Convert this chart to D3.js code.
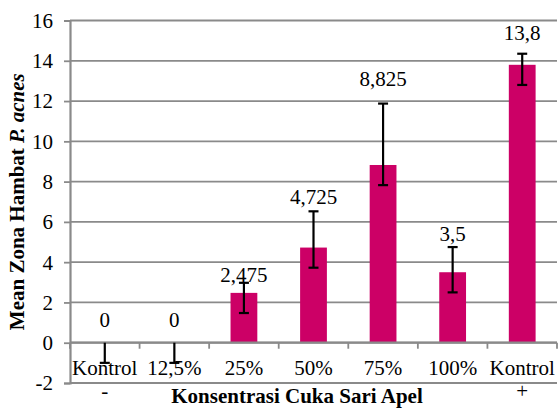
<!DOCTYPE html>
<html>
<head>
<meta charset="utf-8">
<script src="https://cdn.jsdelivr.net/npm/d3@7"></script>
<style>
  html, body { margin: 0; padding: 0; background: #fff; }
  svg { display: block; }
</style>
</head>
<body>
<svg id="chart" width="560" height="409"></svg>
<script>
// Mean inhibition zone of P. acnes per apple cider vinegar concentration
const categories = ["Kontrol -", "12,5%", "25%", "50%", "75%", "100%", "Kontrol +"];
const categoryLines = [["Kontrol", "-"], ["12,5%"], ["25%"], ["50%"], ["75%"], ["100%"], ["Kontrol", "+"]];
const means = [0, 0, 2.475, 4.725, 8.825, 3.5, 13.8];
const valueLabels = ["0", "0", "2,475", "4,725", "8,825", "3,5", "13,8"];
const errPlus = [0, 0, 0.5, 1.8, 3.05, 1.25, 0.55];
const errMinus = [1, 1, 1, 1, 1, 1, 1];
const yTicks = [-2, 0, 2, 4, 6, 8, 10, 12, 14, 16];

const FONT = "'Liberation Serif', 'Times New Roman', serif";
const svg = d3.select("#chart");
const plotLeft = 70, plotRight = 557, plotTop = 20.5, plotBottom = 383;
const gridColor = "#8a8a8a";
const barColor = "#cc0066";

const x = d3.scaleBand().domain(categories).range([plotLeft, plotRight]).padding(0);
const y = d3.scaleLinear().domain([-2, 16]).range([plotBottom, plotTop]);
const barW = x.bandwidth() * 0.385;

// horizontal gridlines
svg.append("g").selectAll("line").data(yTicks).join("line")
  .attr("x1", plotLeft).attr("x2", plotRight)
  .attr("y1", d => y(d)).attr("y2", d => y(d))
  .attr("stroke", gridColor).attr("stroke-width", 1.8);

// y axis (plain hyphen for negative ticks)
const yAxis = svg.append("g").attr("transform", `translate(${plotLeft},0)`)
  .call(d3.axisLeft(y).tickValues(yTicks).tickSize(6).tickPadding(11).tickFormat(d => String(d)));
yAxis.attr("font-family", null).attr("font-size", null);
yAxis.select(".domain").attr("stroke", gridColor).attr("stroke-width", 2.2);
yAxis.selectAll(".tick line").attr("stroke", gridColor).attr("stroke-width", 1.8);
yAxis.selectAll(".tick text")
  .style("font-family", FONT).style("font-size", "21px")
  .attr("fill", "#000").attr("dy", "0.33em");

// bars
svg.append("g").selectAll("rect").data(means).join("rect")
  .attr("x", (d, i) => x(categories[i]) + (x.bandwidth() - barW) / 2)
  .attr("width", barW)
  .attr("y", d => y(Math.max(0, d)))
  .attr("height", d => Math.abs(y(d) - y(0)))
  .attr("fill", barColor);

// category axis at zero with boundary ticks
const xAxisG = svg.append("g");
xAxisG.append("line")
  .attr("x1", plotLeft).attr("x2", plotRight).attr("y1", y(0)).attr("y2", y(0))
  .attr("stroke", gridColor).attr("stroke-width", 2.2);
const bounds = categories.map(c => x(c)).concat([plotRight]);
xAxisG.selectAll("line.tk").data(bounds).join("line").attr("class", "tk")
  .attr("x1", d => d).attr("x2", d => d)
  .attr("y1", y(0)).attr("y2", y(0) + 6)
  .attr("stroke", gridColor).attr("stroke-width", 1.8);

// error bars
const capW = 10;
const eb = svg.append("g").attr("stroke", "#000").attr("stroke-width", 2.2);
means.forEach((m, i) => {
  const cx = x(categories[i]) + x.bandwidth() / 2;
  const hi = m + errPlus[i], lo = m - errMinus[i];
  eb.append("line").attr("x1", cx).attr("x2", cx).attr("y1", y(hi)).attr("y2", y(lo));
  if (errPlus[i] > 0) {
    eb.append("line").attr("x1", cx - capW / 2).attr("x2", cx + capW / 2).attr("y1", y(hi)).attr("y2", y(hi));
  }
  eb.append("line").attr("x1", cx - capW / 2).attr("x2", cx + capW / 2).attr("y1", y(lo)).attr("y2", y(lo));
});

// value labels above the error bars
const labelLift = [16, 16, 1, 7, 18, 6, 14];
svg.append("g").selectAll("text").data(means).join("text")
  .attr("x", (d, i) => x(categories[i]) + x.bandwidth() / 2)
  .attr("y", (d, i) => y(d + errPlus[i]) - labelLift[i])
  .attr("text-anchor", "middle")
  .style("font-family", FONT).style("font-size", "21px")
  .text((d, i) => valueLabels[i]);

// category labels
const catG = svg.append("g");
categoryLines.forEach((lines, i) => {
  const cx = x(categories[i]) + x.bandwidth() / 2;
  lines.forEach((t, k) => {
    catG.append("text")
      .attr("x", cx).attr("y", 375 + k * 23)
      .attr("text-anchor", "middle")
      .style("font-family", FONT).style("font-size", "21px")
      .text(t);
  });
});

// axis titles
svg.append("text")
  .attr("x", 297).attr("y", 403)
  .attr("text-anchor", "middle")
  .style("font-family", FONT).style("font-size", "21px").style("font-weight", "bold")
  .text("Konsentrasi Cuka Sari Apel");

const yt = svg.append("text")
  .attr("transform", `translate(24,${(plotTop + plotBottom) / 2}) rotate(-90)`)
  .attr("text-anchor", "middle")
  .style("font-family", FONT).style("font-size", "21px").style("font-weight", "bold");
yt.append("tspan").text("Mean Zona Hambat ");
yt.append("tspan").style("font-style", "italic").text("P. acnes");
</script>
</body>
</html>
